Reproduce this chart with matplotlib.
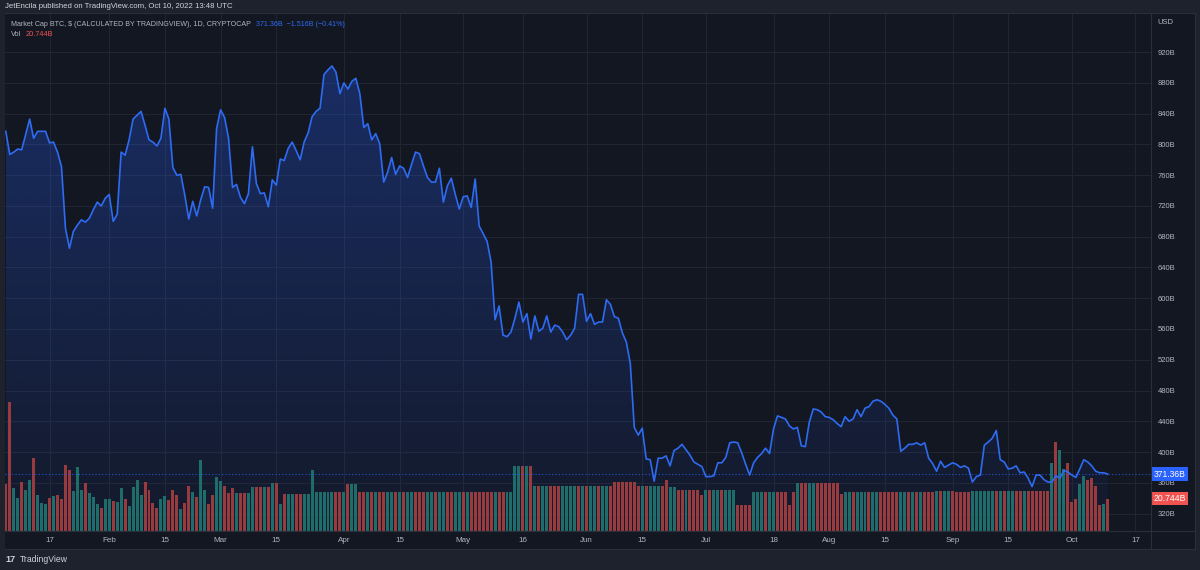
import matplotlib
matplotlib.use("Agg")
import matplotlib.pyplot as plt
import matplotlib.dates as mdates
import matplotlib.transforms as mtrans
from matplotlib.patches import Rectangle, Polygon
from matplotlib.colors import to_rgb
from matplotlib.lines import Line2D
import numpy as np
import pandas as pd

plt.rcParams['font.family'] = ['Liberation Sans', 'DejaVu Sans']

# ---------------- data (billions USD) ----------------
start_date = '2022-01-06'
market_cap = [
    817, 787, 790, 794, 793, 813, 833, 808, 817, 817,
    817, 802, 803, 790, 771, 691, 665, 687, 695, 702,
    699, 704, 715, 725, 720, 730, 735, 700, 709, 790,
    786, 806, 833, 838, 843, 825, 806, 803, 798, 808,
    847, 833, 770, 760, 761, 734, 703, 726, 707, 728,
    745, 744, 717, 821, 845, 835, 808, 744, 748, 731,
    723, 736, 797, 749, 736, 737, 719, 754, 747, 781,
    779, 795, 803, 792, 780, 803, 815, 836, 843, 847,
    891, 897, 902, 894, 866, 880, 872, 882, 886, 866,
    822, 827, 806, 814, 801, 751, 764, 783, 761, 772,
    769, 757, 774, 790, 788, 772, 757, 751, 751, 769,
    725, 746, 756, 735, 716, 732, 733, 718, 755, 694,
    684, 674, 647, 572, 590, 552, 550, 556, 574, 595,
    569, 580, 547, 577, 557, 561, 577, 556, 565, 563,
    556, 546, 552, 561, 605, 605, 570, 580, 566, 569,
    569, 598, 592, 576, 574, 555, 543, 515, 432, 422,
    431, 391, 390, 362, 392, 392, 395, 382, 402, 405,
    410, 403, 396, 387, 384, 381, 368, 368, 369, 386,
    386, 393, 412, 413, 412, 399, 384, 370, 386, 393,
    398, 405, 398, 430, 447, 445, 443, 434, 430, 432,
    408, 407, 439, 456, 455, 452, 446, 445, 442, 437,
    433, 446, 440, 443, 455, 446, 457, 459, 466, 468,
    466, 462, 457, 448, 443, 401, 405, 410, 410, 412,
    409, 412, 392, 385, 375, 388, 380, 383, 386, 384,
    380, 382, 379, 361, 368, 370, 409, 413, 418, 428,
    390, 387, 378, 379, 382, 373, 374, 366, 355, 370,
    370, 364, 361, 361, 369, 366, 376, 374, 370, 367,
    378, 390, 387, 382, 375, 373, 373, 371.36,
]
volume = [
    30.0, 82.9, 27.8, 21.0, 31.7, 26.1, 32.5, 47.1, 23.1, 18.2,
    17.6, 21.4, 22.5, 22.9, 20.3, 42.4, 39.2, 25.7, 41.3, 26.1,
    30.6, 24.4, 21.8, 17.1, 14.6, 20.8, 20.3, 19.3, 18.6, 27.8,
    20.3, 16.1, 28.3, 32.5, 23.1, 31.7, 26.5, 18.2, 15.0, 20.8,
    22.3, 19.7, 26.1, 23.1, 13.9, 18.2, 28.7, 25.3, 21.8, 45.4,
    26.1, 17.1, 23.1, 34.9, 32.1, 28.7, 24.6, 27.8, 24.4, 24.4,
    24.4, 24.4, 28.1, 28.1, 28.1, 28.1, 28.1, 30.8, 30.8, 17.1,
    23.6, 23.6, 23.6, 23.6, 23.6, 23.6, 23.6, 39.0, 24.8, 24.8,
    24.8, 24.8, 24.8, 24.8, 24.8, 24.8, 30.4, 30.4, 30.4, 24.8,
    24.8, 24.8, 24.8, 24.8, 24.8, 24.8, 24.8, 24.8, 24.8, 25.0,
    25.0, 25.0, 25.0, 25.0, 25.0, 25.0, 25.0, 25.0, 25.0, 25.0,
    25.0, 25.0, 25.0, 25.0, 25.0, 25.0, 25.0, 25.0, 25.0, 25.0,
    25.0, 25.0, 25.0, 25.0, 25.0, 25.0, 25.0, 25.0, 41.7, 41.7,
    41.7, 41.7, 41.7, 28.7, 28.7, 28.7, 28.7, 28.7, 28.7, 28.7,
    28.7, 28.7, 28.7, 28.7, 28.7, 28.7, 28.7, 28.7, 28.7, 28.7,
    28.7, 28.7, 28.7, 31.5, 31.5, 31.5, 31.5, 31.5, 31.5, 28.7,
    28.7, 28.7, 28.7, 28.7, 28.7, 28.7, 32.5, 28.3, 28.3, 26.1,
    26.1, 26.1, 26.1, 26.1, 26.1, 23.1, 26.1, 26.1, 26.1, 26.1,
    26.1, 26.1, 26.1, 26.1, 16.5, 16.5, 16.5, 16.5, 25.0, 25.0,
    25.0, 25.0, 25.0, 25.0, 25.0, 25.3, 25.3, 16.5, 25.3, 30.8,
    30.8, 30.8, 30.8, 30.8, 30.8, 30.8, 30.8, 30.8, 30.8, 30.8,
    24.0, 25.0, 25.0, 25.0, 25.0, 25.0, 25.0, 25.0, 25.0, 25.0,
    25.0, 25.0, 25.0, 25.0, 25.0, 25.0, 25.0, 25.0, 25.0, 25.0,
    25.0, 25.0, 25.0, 25.0, 25.9, 25.9, 25.9, 25.9, 25.9, 25.0,
    25.0, 25.0, 25.0, 25.9, 25.9, 25.9, 25.9, 25.9, 25.9, 25.9,
    25.9, 25.9, 25.9, 25.9, 25.9, 25.9, 25.9, 25.9, 25.9, 25.9,
    25.9, 25.9, 25.9, 43.9, 57.4, 52.0, 40.0, 43.5, 18.6, 20.3,
    30.0, 35.3, 32.5, 33.8, 28.9, 16.5, 17.1, 20.744,
]
# 1 = up day (green volume bar), 0 = down day (red volume bar)
volume_up = [
    0, 0, 1, 1, 0, 1, 1, 0, 1, 1,
    1, 0, 1, 0, 0, 0, 0, 1, 1, 1,
    0, 1, 1, 1, 0, 1, 1, 0, 1, 1,
    0, 1, 1, 1, 1, 0, 0, 0, 0, 1,
    1, 0, 0, 0, 1, 0, 0, 1, 0, 1,
    1, 0, 0, 1, 1, 0, 0, 0, 1, 0,
    0, 1, 1, 0, 0, 1, 0, 1, 0, 1,
    0, 1, 1, 0, 0, 1, 1, 1, 1, 1,
    1, 1, 1, 0, 0, 1, 0, 1, 1, 0,
    0, 1, 0, 1, 0, 0, 1, 1, 0, 1,
    0, 1, 1, 0, 0, 0, 1, 1, 0, 1,
    1, 0, 0, 1, 1, 0, 1, 0, 0, 0,
    0, 0, 0, 1, 0, 0, 1, 1, 1, 1,
    0, 1, 0, 1, 0, 1, 1, 0, 0, 0,
    1, 1, 1, 1, 0, 1, 0, 1, 1, 0,
    1, 1, 0, 0, 0, 0, 0, 0, 0, 0,
    1, 0, 1, 1, 1, 0, 0, 1, 1, 0,
    0, 1, 0, 0, 0, 0, 1, 0, 1, 1,
    0, 1, 1, 1, 0, 0, 0, 0, 1, 1,
    1, 0, 1, 1, 0, 0, 0, 0, 0, 1,
    0, 0, 1, 1, 0, 0, 0, 0, 0, 0,
    0, 1, 1, 0, 1, 1, 1, 0, 1, 1,
    0, 0, 0, 0, 0, 1, 1, 0, 1, 0,
    1, 0, 0, 0, 1, 0, 1, 1, 0, 0,
    0, 0, 0, 1, 1, 1, 1, 1, 1, 0,
    1, 0, 1, 1, 0, 0, 1, 0, 0, 0,
    0, 0, 0, 1, 0, 1, 1, 0, 0, 0,
    1, 1, 0, 0, 0, 0, 1, 0,
]
price_ticks = [320, 360, 400, 440, 480, 520, 560, 600, 640, 680, 720, 760, 800, 840, 880, 920]
date_ticks = ['2022-01-17', '2022-02-01', '2022-02-15', '2022-03-01', '2022-03-15',
              '2022-04-01', '2022-04-15', '2022-05-01', '2022-05-16', '2022-06-01',
              '2022-06-15', '2022-07-01', '2022-07-18', '2022-08-01', '2022-08-15',
              '2022-09-01', '2022-09-15', '2022-10-01', '2022-10-17']
date_tick_labels = ['17', 'Feb', '15', 'Mar', '15', 'Apr', '15', 'May', '16', 'Jun',
                    '15', 'Jul', '18', 'Aug', '15', 'Sep', '15', 'Oct', '17']
last_price = market_cap[-1]
last_volume = volume[-1]

# ---------------- figure ----------------
W, H = 1200, 570
BG = '#131722'
FRAME = '#1e222d'
BORDER = '#2a2e39'
GRID = '#212531'
TXT = '#b2b5be'
LINE = '#2e6bf2'
RED = '#973b3e'
GREEN = '#1e6d6a'

fig = plt.figure(figsize=(W / 100, H / 100), dpi=100, facecolor=FRAME)

def fx(px):
    return px / W

def fy(py):
    return 1 - py / H

# pane background including scales (drawn beneath the axes)
fig.patches.append(Rectangle((fx(5), fy(549)), fx(1190), (549 - 13) / H,
                             transform=fig.transFigure, facecolor=BG,
                             edgecolor='none', zorder=-5))
for (x0, y0, x1, y1) in [(5, 13, 1195, 13), (5, 531, 1195, 531), (5, 549, 1195, 549),
                         (1151, 13, 1151, 549), (1195, 13, 1195, 549)]:
    fig.lines.append(Line2D([fx(x0), fx(x1)], [fy(y0), fy(y1)], transform=fig.transFigure,
                            color=BORDER, lw=0.8, zorder=5))

rect = [fx(5), fy(531), (1151 - 5) / W, (531 - 13) / H]
ax = fig.add_axes(rect)
ax.set_facecolor('none')
ax_vol = ax.twinx()
ax_line = ax.twinx()

dates = pd.date_range(start_date, periods=len(market_cap), freq='D')
xs = mdates.date2num(dates)
ys = np.array(market_cap, dtype=float)

ylo, yhi = 297.3, 970.9
xlo, xhi = xs[0] - 0.2, xs[0] + 287.9

# gradient area fill
verts = [(xs[0], ylo)] + list(zip(xs, ys)) + [(xs[-1], ylo)]
poly = Polygon(verts, closed=True, facecolor='none', edgecolor='none')
ax.add_patch(poly)
rgba = np.zeros((256, 1, 4))
rgba[..., :3] = to_rgb('#2962ff')
rgba[..., 3] = np.linspace(0.04, 0.30, 256)[:, None]
im = ax.imshow(rgba, extent=[xs[0], xs[-1], ylo, ys.max()], origin='lower',
               aspect='auto', zorder=1, interpolation='bilinear')
im.set_clip_path(poly)

# grid
for p in price_ticks:
    ax.axhline(p, color=GRID, lw=0.8, zorder=0.5)
tick_x = mdates.date2num(pd.to_datetime(date_ticks))
for t in tick_x:
    ax.axvline(t, color=GRID, lw=0.8, zorder=0.5)

ax.set_xlim(xlo, xhi)
ax.set_ylim(ylo, yhi)
ax.set_xticks(tick_x)
ax.set_xticklabels(date_tick_labels)
ax.tick_params(axis='x', length=0, pad=4.5, colors=TXT, labelsize=5.8)
ax.set_yticks([])
for s in ax.spines.values():
    s.set_visible(False)

# volume
vol_colors = [GREEN if u else RED for u in volume_up]
ax_vol.bar(xs, volume, width=0.75, color=vol_colors, zorder=2, linewidth=0)
ax_vol.set_ylim(0, 518 / 1.557)
ax_vol.set_xlim(xlo, xhi)
ax_vol.set_yticks([])
for s in ax_vol.spines.values():
    s.set_visible(False)

# price line
ax_line.plot(xs, ys, color=LINE, lw=1.2, zorder=3, solid_joinstyle='round')
ax_line.axhline(last_price, color='#2962ff', lw=0.8, ls=(0, (1, 2)), alpha=0.8)
ax_line.set_xlim(xlo, xhi)
ax_line.set_ylim(ylo, yhi)
ax_line.set_yticks(price_ticks)
ax_line.set_yticklabels([f'{p}B' for p in price_ticks])
ax_line.tick_params(axis='y', length=0, pad=4.8, colors=TXT, labelsize=5.5)
for s in ax_line.spines.values():
    s.set_visible(False)

# last value tags on the price scale
tr_p = mtrans.blended_transform_factory(ax_line.transAxes, ax_line.transData)
ax_line.text(1.0025, last_price, f'{last_price:.2f}B', transform=tr_p, ha='left', va='center',
             color='white', fontsize=6.2, zorder=10, clip_on=False,
             bbox=dict(boxstyle='square,pad=0.25', fc='#2962ff', ec='none'))
tr_v = mtrans.blended_transform_factory(ax_vol.transAxes, ax_vol.transData)
ax_vol.text(1.0025, last_volume, f'{last_volume:.3f}B', transform=tr_v, ha='left', va='center',
            color='white', fontsize=6.2, zorder=10, clip_on=False,
            bbox=dict(boxstyle='square,pad=0.25', fc='#f05350', ec='none'))

# header texts
fig.text(fx(5), fy(6), 'JetEncila published on TradingView.com, Oct 10, 2022 13:48 UTC',
         color='#d1d4dc', fontsize=5.6, ha='left', va='center')
fig.text(fx(10.5), fy(24), 'Market Cap BTC, $ (CALCULATED BY TRADINGVIEW), 1D, CRYPTOCAP',
         color=TXT, fontsize=5.15, ha='left', va='center')
fig.text(fx(256), fy(24), '371.36B  \u22121.516B (\u22120.41%)',
         color='#2f6bf2', fontsize=5.15, ha='left', va='center')
fig.text(fx(10.5), fy(35), 'Vol', color=TXT, fontsize=5.3, ha='left', va='center')
fig.text(fx(26), fy(35), '20.744B', color='#f05350', fontsize=5.3, ha='left', va='center')
fig.text(fx(1157), fy(22), 'USD', color=TXT, fontsize=5.5, ha='left', va='center')

# footer logo
fig.text(fx(5), fy(560), '17', color='#d1d4dc', fontsize=6.5, fontweight='bold',
         ha='left', va='center')
fig.text(fx(20), fy(560), 'TradingView', color='#d1d4dc', fontsize=6.2,
         ha='left', va='center')

fig.savefig('out.png', dpi=100, facecolor=FRAME)
